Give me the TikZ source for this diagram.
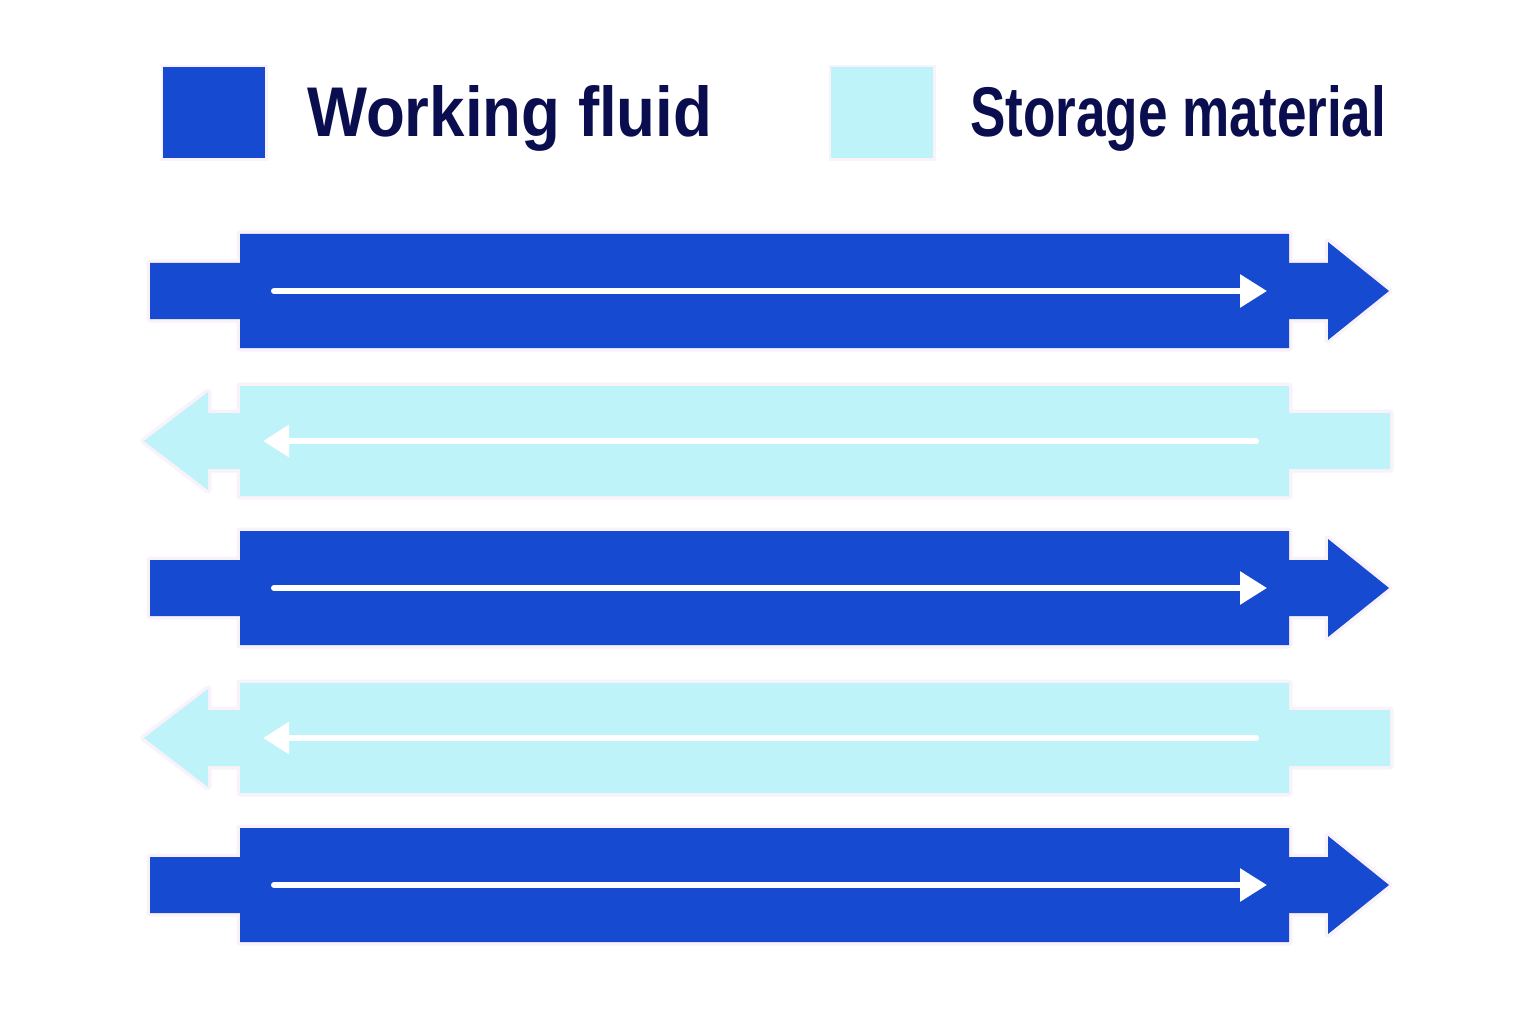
\documentclass[tikz,border=0pt]{standalone}
\usepackage{fontspec}
\setmainfont{Liberation Sans}
\usetikzlibrary{arrows.meta}
\definecolor{wfblue}{RGB}{22,74,208}
\definecolor{smcyan}{RGB}{190,243,249}
\definecolor{navy}{RGB}{11,14,78}
\definecolor{halo}{RGB}{250,242,250}
\tikzset{
  fluid/.style={fill=wfblue, preaction={draw=halo, line width=7pt, line join=round}},
  storage/.style={fill=smcyan, preaction={draw=halo, line width=7pt, line join=round}},
  flowline/.style={draw=white, line width=6pt, line cap=round},
  legtext/.style={anchor=base west, inner sep=0pt, text=navy, font=\bfseries},
  legbox/.style={inner sep=0pt, minimum width=102pt, minimum height=91pt, preaction={draw=halo, line width=5pt}}
}
\newcommand{\rightrow}[1]{%
  \path[fluid] (150,#1-28) -- (240,#1-28) -- (240,#1-57) -- (1289,#1-57) -- (1289,#1-28)
    -- (1328,#1-28) -- (1328,#1-49) -- (1389,#1) -- (1328,#1+49) -- (1328,#1+28)
    -- (1289,#1+28) -- (1289,#1+57) -- (240,#1+57) -- (240,#1+28) -- (150,#1+28) -- cycle;}
\newcommand{\leftrow}[1]{%
  \path[storage] (1390,#1-28) -- (1289,#1-28) -- (1289,#1-55) -- (240,#1-55) -- (240,#1-28)
    -- (208,#1-28) -- (208,#1-49) -- (144,#1) -- (208,#1+49) -- (208,#1+28)
    -- (240,#1+28) -- (240,#1+55) -- (1289,#1+55) -- (1289,#1+28) -- (1390,#1+28) -- cycle;}
\begin{document}
\begin{tikzpicture}[x=1pt,y=-1pt]
\useasboundingbox[fill=white] (0,0) rectangle (1536,1024);
% legend
\node[legbox, fill=wfblue, anchor=north west] (lbwf) at (163,67) {};
\node[legtext] (twf) at (307,137) {\resizebox{405pt}{51pt}{Working fluid}};
\node[legbox, fill=smcyan, anchor=north west] (lbsm) at (831,67) {};
\node[legtext] (tsm) at (970,137) {\resizebox{416pt}{51pt}{Storage material}};
% rows
\rightrow{291}
\leftrow{441}
\rightrow{588}
\leftrow{738}
\rightrow{885}
% inner flow arrows
\foreach \c/\n in {291/a,588/c,885/e}{
  \coordinate (s\n) at (274,\c);
  \coordinate (e\n) at (1267,\c);
  \draw[flowline, -{Triangle[length=27pt,width=32pt]}] (s\n) -- (e\n);
}
\foreach \c/\n in {441/b,738/d}{
  \coordinate (s\n) at (1256,\c);
  \coordinate (e\n) at (263,\c);
  \draw[flowline, -{Triangle[length=26pt,width=31pt]}] (s\n) -- (e\n);
}
\end{tikzpicture}
\end{document}
